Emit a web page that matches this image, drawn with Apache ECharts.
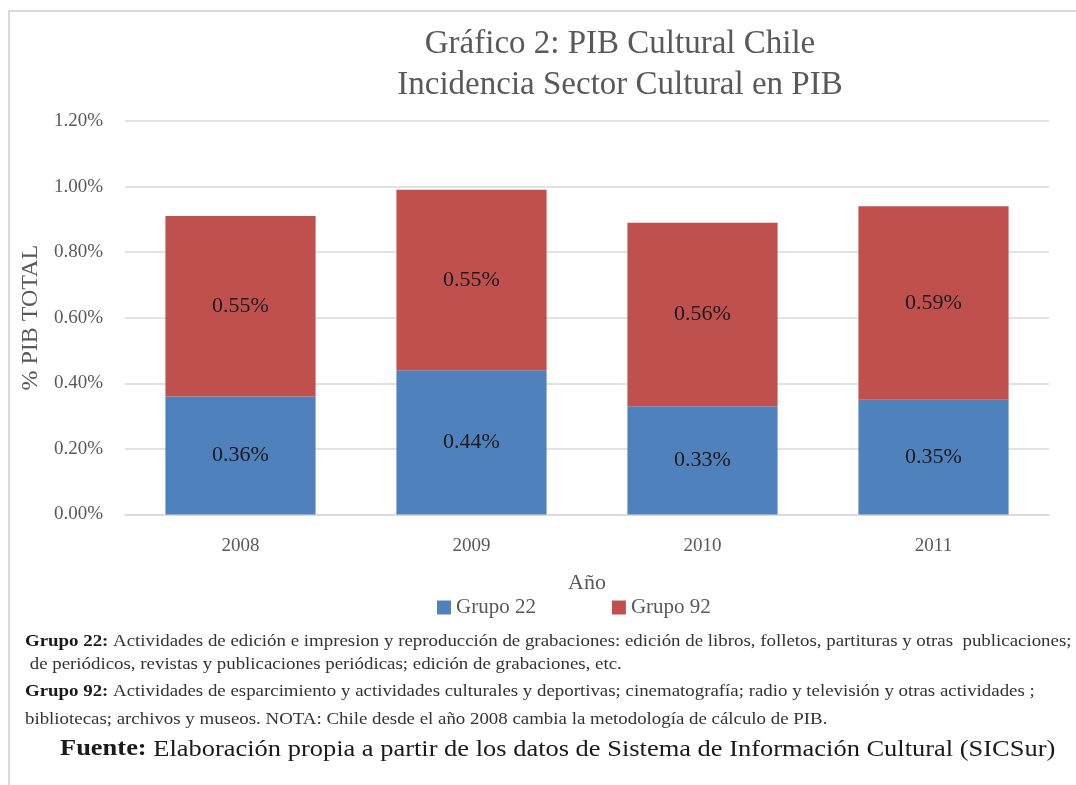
<!DOCTYPE html>
<html>
<head>
<meta charset="utf-8">
<script src="https://cdn.jsdelivr.net/npm/echarts@6/dist/echarts.min.js"></script>
<style>
  html, body { margin: 0; padding: 0; background: #ffffff; }
  #chart { width: 1076px; height: 785px; }
</style>
</head>
<body>
<div id="chart"></div>
<script>
// Years on the category axis
const years = ['2008', '2009', '2010', '2011'];
// Share of total GDP (%) for each group
const grupo22 = [0.36, 0.44, 0.33, 0.35];
const grupo92 = [0.55, 0.55, 0.56, 0.59];
const seriesNames = ['Grupo 22', 'Grupo 92'];
// Value axis range and step (%)
const yMin = 0, yMax = 1.2, yStep = 0.2;

const serif = '"Liberation Serif", "DejaVu Serif", serif';
const grey = '#595959';

const notes = [
  { bold: 'Grupo 22:', text: ' Actividades de edición e impresion y reproducción de grabaciones: edición de libros, folletos, partituras y otras  publicaciones;', x: 25, y: 640 },
  { bold: '', text: ' de periódicos, revistas y publicaciones periódicas; edición de grabaciones, etc.', x: 25, y: 663 },
  { bold: 'Grupo 92:', text: ' Actividades de esparcimiento y actividades culturales y deportivas; cinematografía; radio y televisión y otras actividades ;', x: 25, y: 690 },
  { bold: '', text: 'bibliotecas; archivos y museos. NOTA: Chile desde el año 2008 cambia la metodología de cálculo de PIB.', x: 25, y: 718 }
];

const chart = echarts.init(document.getElementById('chart'), null, { renderer: 'canvas' });

const pct = v => v.toFixed(2) + '%';

const noteGraphics = notes.map(n => ({
  type: 'text',
  x: n.x,
  y: n.y - 7,
  scaleX: 1.11,
  style: {
    text: (n.bold ? '{b|' + n.bold + '}' : '') + '{r|' + n.text + '}',
    fontFamily: serif,
    fontSize: 17,
    rich: {
      b: { fontFamily: serif, fontSize: 17, fontWeight: 'bold', fill: '#1a1a1a' },
      r: { fontFamily: serif, fontSize: 17, fill: '#333333' }
    }
  }
}));

chart.setOption({
  backgroundColor: '#ffffff',
  animation: false,
  title: {
    text: 'Gráfico 2: PIB Cultural Chile\nIncidencia Sector Cultural en PIB',
    left: 615,
    top: 19,
    textAlign: 'center',
    textStyle: { fontFamily: serif, fontSize: 33, fontWeight: 'normal', color: grey, lineHeight: 41 }
  },
  legend: {
    data: seriesNames,
    left: 432,
    top: 592,
    itemWidth: 14,
    itemHeight: 14,
    itemGap: 76,
    icon: 'rect',
    textStyle: { fontFamily: serif, fontSize: 21, color: grey }
  },
  grid: { left: 125, right: 27, top: 121, bottom: 270.5 },
  xAxis: {
    type: 'category',
    data: years,
    name: 'Año',
    nameLocation: 'middle',
    nameGap: 58,
    nameTextStyle: { fontFamily: serif, fontSize: 22, color: grey },
    axisLine: { lineStyle: { color: '#d9d9d9', width: 1.5 } },
    axisTick: { show: false },
    axisLabel: { fontFamily: serif, fontSize: 19, color: grey, margin: 22 }
  },
  yAxis: {
    type: 'value',
    min: yMin,
    max: yMax,
    interval: yStep,
    name: '% PIB TOTAL',
    nameLocation: 'middle',
    nameGap: 80,
    nameTextStyle: { fontFamily: serif, fontSize: 24, color: grey },
    axisLine: { show: false },
    axisTick: { show: false },
    axisLabel: { fontFamily: serif, fontSize: 19, color: grey, margin: 22, formatter: pct },
    splitLine: { lineStyle: { color: '#d9d9d9', width: 1.5 } }
  },
  series: [
    {
      name: seriesNames[0],
      type: 'bar',
      stack: 'pib',
      data: grupo22,
      barWidth: '65%',
      itemStyle: { color: '#4f81bd' },
      label: { show: true, position: 'inside', fontFamily: serif, fontSize: 22, color: '#1a1a1a', formatter: p => pct(p.value) }
    },
    {
      name: seriesNames[1],
      type: 'bar',
      stack: 'pib',
      data: grupo92,
      barWidth: '65%',
      itemStyle: { color: '#c0504d' },
      label: { show: true, position: 'inside', fontFamily: serif, fontSize: 22, color: '#1a1a1a', formatter: p => pct(p.value) }
    }
  ],
  graphic: [
    // frame lines along the top and left edges
    { type: 'line', shape: { x1: 8, y1: 11, x2: 1076, y2: 11 }, style: { stroke: '#d9d9d9', lineWidth: 2 } },
    { type: 'line', shape: { x1: 9, y1: 10, x2: 9, y2: 785 }, style: { stroke: '#d9d9d9', lineWidth: 2 } },
    ...noteGraphics,
    {
      type: 'text',
      x: 60,
      y: 738,
      scaleX: 1.15,
      style: {
        text: '{b|Fuente:}{r| Elaboración propia a partir de los datos de Sistema de Información Cultural (SICSur)}',
        fontFamily: serif,
        fontSize: 23,
        rich: {
          b: { fontFamily: serif, fontSize: 23, fontWeight: 'bold', fill: '#1a1a1a' },
          r: { fontFamily: serif, fontSize: 23, fill: '#1a1a1a' }
        }
      }
    }
  ]
});
</script>
</body>
</html>
